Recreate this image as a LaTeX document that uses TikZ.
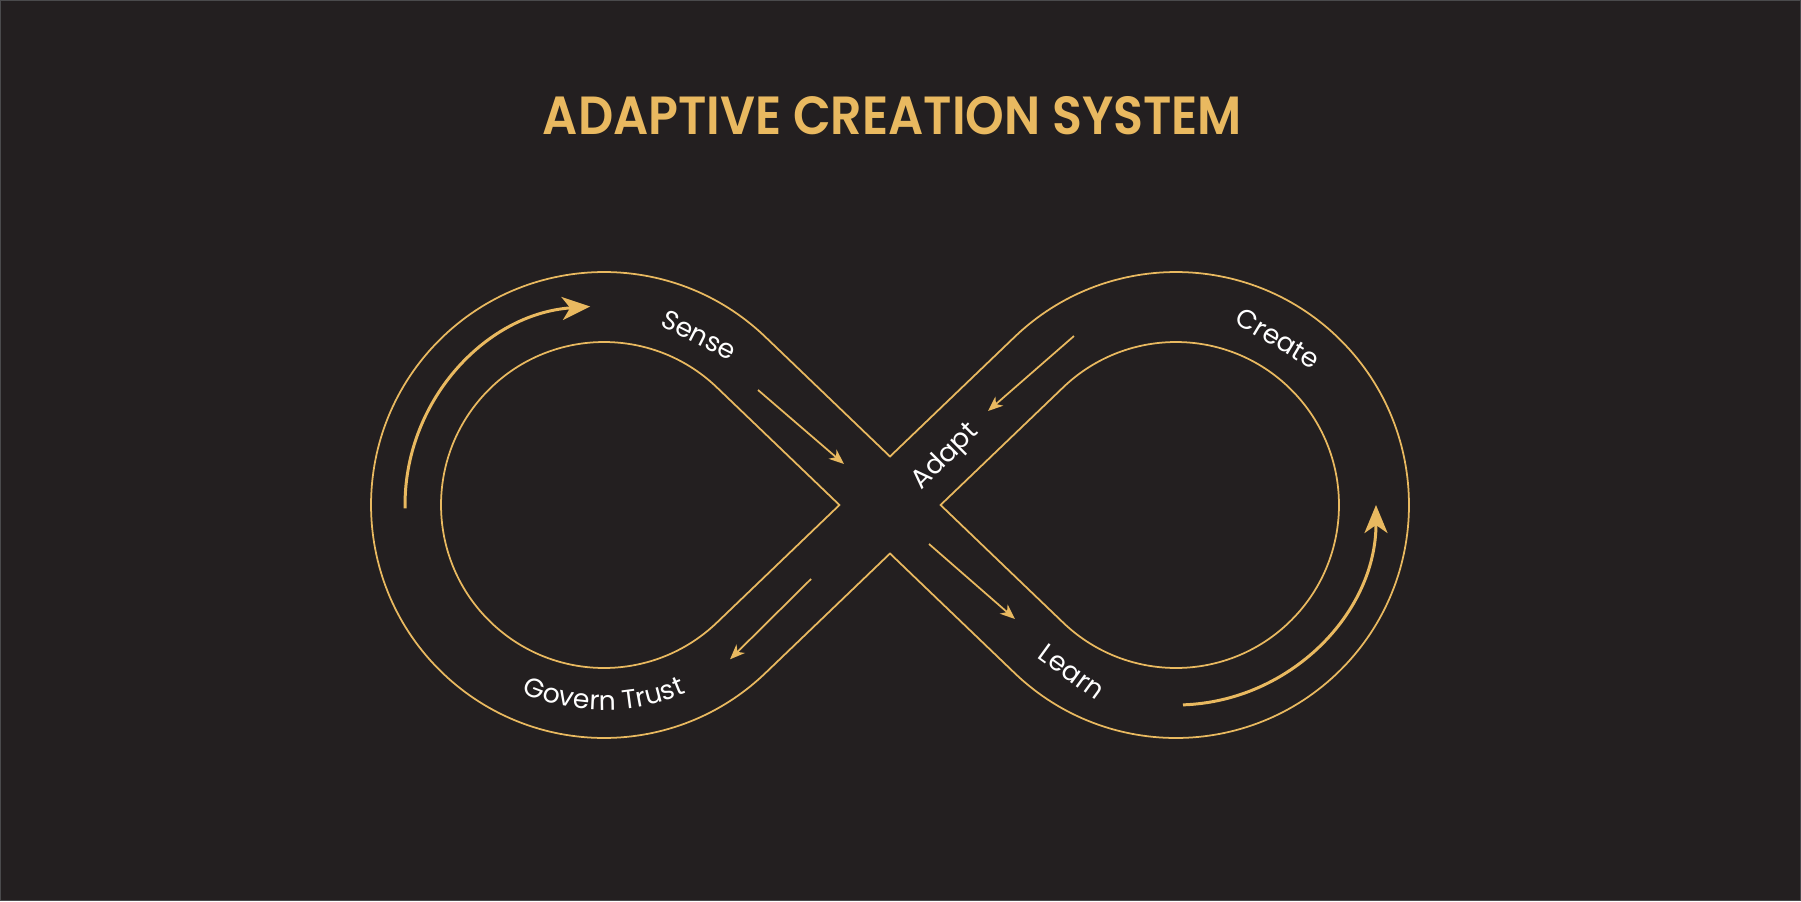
\documentclass[tikz,border=0pt]{standalone}
\usepackage{fontspec}
\usepackage{graphicx}
\usetikzlibrary{arrows.meta,calc,decorations.text}
\newfontfamily\popfont{Poppins}
\newfontfamily\popsemi{Poppins-SemiBold}
\definecolor{bg}{HTML}{231F20}
\definecolor{gold}{HTML}{E9B960}
\definecolor{frame}{HTML}{4A4A4C}
\newcommand\lblfont{\popfont\fontsize{7.6pt}{9pt}\selectfont}
\begin{document}
\begin{tikzpicture}[x=0.01cm,y=0.01cm,
  band/.style={draw=gold, line width=0.5pt, line join=miter},
  flow/.style={draw=gold, line width=0.85pt, -{Stealth[length=0.28cm,width=0.23cm,inset=0.08cm]}},
  hint/.style={draw=gold, line width=0.5pt, -{Stealth[length=0.15cm,width=0.12cm,inset=0.045cm]}},
  lbl/.style={text=white, font=\lblfont, inner sep=0pt},
  ttl/.style={text=gold, inner sep=0pt}
]
\fill[bg] (0,0) rectangle (1801,901);
\draw[frame, line width=0.3pt] (0.5,0.5) rectangle (1800.5,900.5);
\useasboundingbox (0,0) rectangle (1801,901);

% title
\node[ttl] (title) at (892.5,785) {\resizebox{6.99cm}{0.38cm}{\popsemi ADAPTIVE CREATION SYSTEM}};

% geometry
\coordinate (O) at (890,396);
\coordinate (L) at (604,396);
\coordinate (R) at (1176,396);
\coordinate (Vt) at (890,444.5);
\coordinate (Vb) at (890,347.5);
\coordinate (PL) at (839.45,396);
\coordinate (PR) at (940.55,396);

% outer band outline
\draw[band] (Vt) -- ($(L)+(46.19:233)$) arc[start angle=46.19, end angle=313.81, radius=233]
  -- (Vb) -- ($(R)+(226.19:233)$) arc[start angle=226.19, end angle=493.81, radius=233] -- cycle;
% inner teardrops
\draw[band] (PL) -- ($(L)+(46.19:163)$) arc[start angle=46.19, end angle=313.81, radius=163] -- cycle;
\draw[band] (PR) -- ($(R)+(133.81:163)$) arc[start angle=133.81, end angle=-133.81, radius=163] -- cycle;

% big flow arrows
\draw[flow] ($(L)+(181:199)$) arc[start angle=181, end angle=94, radius=199];
\draw[flow] ($(R)+(272:200)$) arc[start angle=272, end angle=360, radius=200];

% small direction arrows
\coordinate (s1) at (758,511); \coordinate (s2) at (844,437);
\coordinate (a1) at (1074,565); \coordinate (a2) at (988,490);
\coordinate (g1) at (811,322); \coordinate (g2) at (730,241.7);
\coordinate (l1) at (929,357); \coordinate (l2) at (1015,282);
\draw[hint] (s1) -- (s2);
\draw[hint] (a1) -- (a2);
\draw[hint] (g1) -- (g2);
\draw[hint] (l1) -- (l2);

% labels
\node[lbl, rotate=-27] (sense) at (699,566) {Sense};
\node[lbl, rotate=-31] (create) at (1278,563) {Create};
\node[lbl, rotate=45] (adapt) at (946,444) {Adapt};
\node[lbl, rotate=-36] (learn) at (1072,229) {Learn};
\path[decorate, decoration={text along path, text align=center,
  text={|\lblfont\color{white}|Govern Trust}}]
  ($(L)+(222:205)$) arc[start angle=222, end angle=318, radius=205];
\end{tikzpicture}
\end{document}
